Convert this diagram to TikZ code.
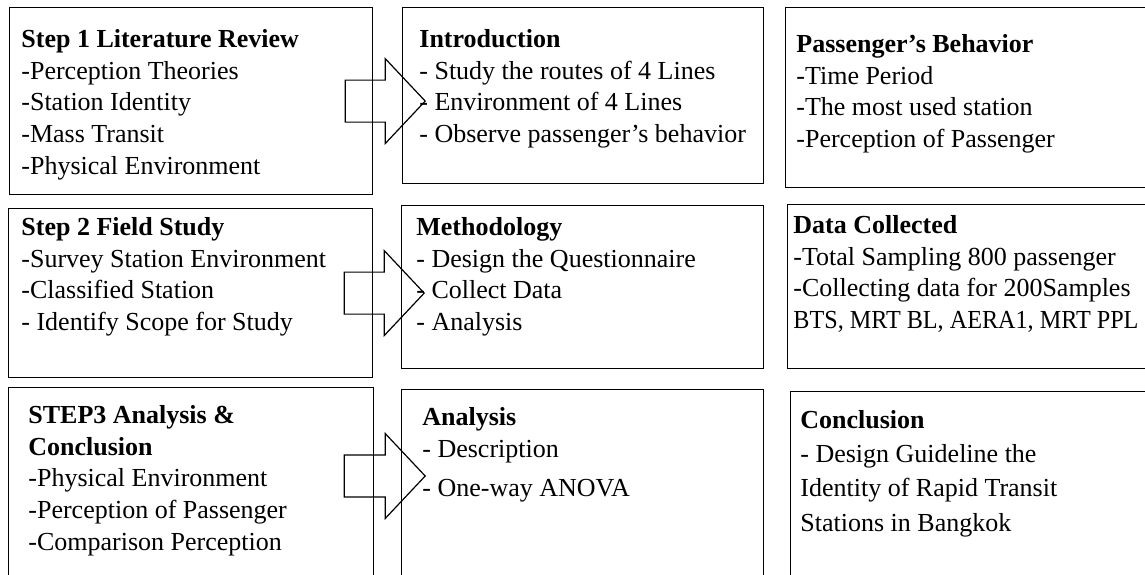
\documentclass[tikz,border=0pt]{standalone}
\usepackage{fontspec}
\setmainfont{Liberation Serif}
\usetikzlibrary{positioning}
\tikzset{
  frame/.style={draw, line width=0.6pt, anchor=north west, inner sep=0pt},
  body/.style={align=left, inner sep=0pt, font=\fontsize{13}{15.9}\selectfont},
  flow/.style={draw, line width=0.6pt, line join=miter},
}
\newcommand{\hd}[1]{\strut\textbf{#1}}

\begin{document}
\begin{tikzpicture}[x=0.5pt,y=-0.5pt]
    \useasboundingbox (0,0) rectangle (1145,574);
    \clip (0,0) rectangle (1145,574);
    % row 1
    \node[frame, minimum width=181.5pt, minimum height=93.5pt] (lit) at (9,7) {};
    \node[frame, minimum width=180.5pt, minimum height=88pt] (intro) at (402,7) {};
    \node[frame, minimum width=200pt, minimum height=90pt] (behav) at (785,7) {};
    \node[body, below right=8.85pt and 6pt of lit.north west] (littxt)
      {\hd{Step 1 Literature Review}\\-Perception Theories\\-Station Identity\\-Mass Transit\\-Physical Environment};
    \node[body, below right=8.85pt and 8.5pt of intro.north west] (introtxt)
      {\hd{Introduction}\\- Study the routes of 4 Lines\\- Environment of 4 Lines\\- Observe passenger's behavior};
    \node[body, below right=11.35pt and 5.5pt of behav.north west] (behavtxt)
      {\hd{Passenger's Behavior}\\-Time Period\\-The most used station\\-Perception of Passenger};
    % row 2
    \node[frame, minimum width=182pt, minimum height=84.5pt] (field) at (8,208) {};
    \node[frame, minimum width=181pt, minimum height=81.5pt] (method) at (401,205) {};
    \node[frame, minimum width=200pt, minimum height=82pt] (data) at (787,204) {};
    \node[body, below right=2.35pt and 6.5pt of field.north west] (fieldtxt)
      {\hd{Step 2 Field Study}\\-Survey Station Environment\\-Classified Station\\- Identify Scope for Study};
    \node[body, below right=3.85pt and 7.5pt of method.north west] (methodtxt)
      {\hd{Methodology}\\- Design the Questionnaire\\- Collect Data\\- Analysis};
    \node[body, below right=3.35pt and 3pt of data.north west] (datatxt)
      {\hd{Data Collected}\\-Total Sampling 800 passenger\\-Collecting data for 200Samples\\{\addfontfeature{FakeStretch=0.93}BTS, MRT BL, AERA1, MRT PPL}};
    % row 3
    \node[frame, minimum width=182.5pt, minimum height=120pt] (final) at (8,387) {};
    \node[frame, minimum width=181pt, minimum height=120pt] (anova) at (401,389) {};
    \node[frame, minimum width=200pt, minimum height=120pt] (concl) at (790,391) {};
    \node[body, below right=6.85pt and 10pt of final.north west] (finaltxt)
      {\hd{STEP3 Analysis \&}\\\textbf{Conclusion}\\-Physical Environment\\-Perception of Passenger\\-Comparison Perception};
    \node[body, below right=6.85pt and 10.5pt of anova.north west] (anovatxt)
      {\hd{Analysis}\\- Description\\[4pt]- One-way ANOVA};
    \node[body, font=\fontsize{13}{17.2}\selectfont, below right=6.35pt and 5pt of concl.north west] (concltxt)
      {\hd{Conclusion}\\- Design Guideline the\\Identity of Rapid Transit\\Stations in Bangkok};
    % block arrows
    \draw[flow] ([shift={(-28,-21)}]lit.east) -- ++(40,0) -- ++(0,-21.5) -- ++(40,42.5)
      -- ++(-40,42.5) -- ++(0,-21.5) -- ++(-40,0) -- cycle;
    \draw[flow] ([shift={(-29,-21)}]field.east) -- ++(40,0) -- ++(0,-21.5) -- ++(40,42.5)
      -- ++(-40,42.5) -- ++(0,-21.5) -- ++(-40,0) -- cycle;
    \draw[flow] ([shift={(-30,68)}]final.north east) -- ++(41,0) -- ++(0,-21.5) -- ++(40,42.5)
      -- ++(-40,42.5) -- ++(0,-21.5) -- ++(-41,0) -- cycle;
\end{tikzpicture}
\end{document}
